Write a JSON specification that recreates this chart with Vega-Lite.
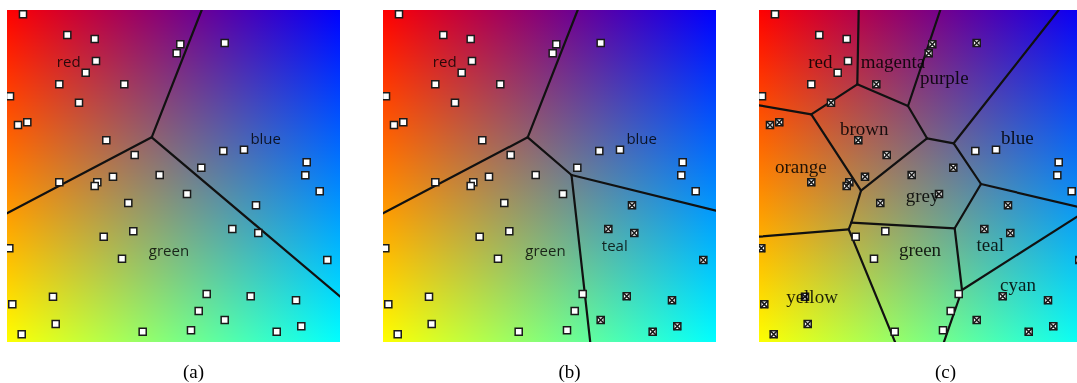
{
  "$schema": "https://vega.github.io/schema/vega-lite/v6.json",
  "background": "white",
  "padding": {"left": 7, "top": 10, "right": 0, "bottom": 0},
  "spacing": 43,
  "config": {"view": {"stroke": null}, "axis": {"disable": true}},
  "datasets": {
    "pts": [
      {"x": 23, "y": 14.3, "b": 0, "c": 0},
      {"x": 67.3, "y": 35, "b": 0, "c": 0},
      {"x": 94.7, "y": 39, "b": 0, "c": 0},
      {"x": 96, "y": 61, "b": 0, "c": 0},
      {"x": 85.7, "y": 72.7, "b": 0, "c": 0},
      {"x": 59.3, "y": 84.3, "b": 0, "c": 0},
      {"x": 124.3, "y": 84.3, "b": 0, "c": 1},
      {"x": 10, "y": 96.3, "b": 0, "c": 0},
      {"x": 79, "y": 102.7, "b": 0, "c": 1},
      {"x": 27.3, "y": 122.3, "b": 0, "c": 1},
      {"x": 18, "y": 125, "b": 0, "c": 1},
      {"x": 106.3, "y": 140.3, "b": 0, "c": 1},
      {"x": 134.7, "y": 155, "b": 0, "c": 1},
      {"x": 180.3, "y": 44.3, "b": 0, "c": 1},
      {"x": 176.7, "y": 53.3, "b": 0, "c": 1},
      {"x": 224.7, "y": 43, "b": 0, "c": 1},
      {"x": 223.3, "y": 151, "b": 0, "c": 0},
      {"x": 244, "y": 149.7, "b": 0, "c": 0},
      {"x": 201.3, "y": 167.7, "b": 0, "c": 1},
      {"x": 306.7, "y": 162.3, "b": 0, "c": 0},
      {"x": 305.3, "y": 175.3, "b": 0, "c": 0},
      {"x": 59.3, "y": 182.3, "b": 0, "c": 1},
      {"x": 97.3, "y": 182.3, "b": 0, "c": 1},
      {"x": 94.7, "y": 186, "b": 0, "c": 1},
      {"x": 113, "y": 176.7, "b": 0, "c": 1},
      {"x": 159.7, "y": 175, "b": 0, "c": 1},
      {"x": 128.3, "y": 203, "b": 0, "c": 1},
      {"x": 133.3, "y": 231.3, "b": 0, "c": 0},
      {"x": 103.7, "y": 236.7, "b": 0, "c": 0},
      {"x": 9.3, "y": 248.3, "b": 0, "c": 1},
      {"x": 122, "y": 258.7, "b": 0, "c": 0},
      {"x": 53, "y": 296.7, "b": 0, "c": 1},
      {"x": 12.3, "y": 304.3, "b": 0, "c": 1},
      {"x": 55.7, "y": 324, "b": 0, "c": 1},
      {"x": 21.7, "y": 334.3, "b": 0, "c": 1},
      {"x": 142.7, "y": 331.7, "b": 0, "c": 0},
      {"x": 319.7, "y": 191.3, "b": 0, "c": 0},
      {"x": 187, "y": 194, "b": 0, "c": 1},
      {"x": 256, "y": 205.3, "b": 1, "c": 1},
      {"x": 232.3, "y": 229, "b": 1, "c": 1},
      {"x": 258.3, "y": 233, "b": 1, "c": 1},
      {"x": 327.3, "y": 260, "b": 1, "c": 1},
      {"x": 206.7, "y": 294, "b": 0, "c": 0},
      {"x": 250.7, "y": 296.3, "b": 1, "c": 1},
      {"x": 296, "y": 300.3, "b": 1, "c": 1},
      {"x": 198.7, "y": 311, "b": 0, "c": 0},
      {"x": 224.7, "y": 320, "b": 1, "c": 1},
      {"x": 191, "y": 330.3, "b": 0, "c": 0},
      {"x": 276.7, "y": 331.7, "b": 1, "c": 1},
      {"x": 301.3, "y": 326.3, "b": 1, "c": 1}
    ],
    "edges": [
      {"p": "a", "x1": 151.7, "y1": 137.3, "x2": 201.7, "y2": 10},
      {"p": "a", "x1": 151.7, "y1": 137.3, "x2": 7, "y2": 213.3},
      {"p": "a", "x1": 151.7, "y1": 137.3, "x2": 340, "y2": 296.5},
      {"p": "b", "x1": 151.7, "y1": 137.3, "x2": 201.7, "y2": 10},
      {"p": "b", "x1": 151.7, "y1": 137.3, "x2": 7, "y2": 213.3},
      {"p": "b", "x1": 151.7, "y1": 137.3, "x2": 195.5, "y2": 175},
      {"p": "b", "x1": 195.5, "y1": 175, "x2": 340, "y2": 210.7},
      {"p": "b", "x1": 195.5, "y1": 175, "x2": 214.3, "y2": 342.7},
      {"p": "c", "x1": 106.7, "y1": 10, "x2": 105.3, "y2": 84.3},
      {"p": "c", "x1": 105.3, "y1": 84.3, "x2": 156, "y2": 106},
      {"p": "c", "x1": 156, "y1": 106, "x2": 188.3, "y2": 10},
      {"p": "c", "x1": 105.3, "y1": 84.3, "x2": 59.3, "y2": 114.3},
      {"p": "c", "x1": 59.3, "y1": 114.3, "x2": 7, "y2": 105.3},
      {"p": "c", "x1": 59.3, "y1": 114.3, "x2": 109, "y2": 190.7},
      {"p": "c", "x1": 109, "y1": 190.7, "x2": 175, "y2": 138.3},
      {"p": "c", "x1": 156, "y1": 106, "x2": 175, "y2": 138.3},
      {"p": "c", "x1": 175, "y1": 138.3, "x2": 201.7, "y2": 143.3},
      {"p": "c", "x1": 201.7, "y1": 143.3, "x2": 306.7, "y2": 10},
      {"p": "c", "x1": 201.7, "y1": 143.3, "x2": 229, "y2": 184},
      {"p": "c", "x1": 229, "y1": 184, "x2": 202.7, "y2": 228.3},
      {"p": "c", "x1": 229, "y1": 184, "x2": 336.5, "y2": 209.4},
      {"p": "c", "x1": 202.7, "y1": 228.3, "x2": 99.3, "y2": 222.7},
      {"p": "c", "x1": 99.3, "y1": 222.7, "x2": 109, "y2": 190.7},
      {"p": "c", "x1": 99.3, "y1": 222.7, "x2": 96.7, "y2": 229.3},
      {"p": "c", "x1": 96.7, "y1": 229.3, "x2": 7, "y2": 236.7},
      {"p": "c", "x1": 96.7, "y1": 229.3, "x2": 143.3, "y2": 342.7},
      {"p": "c", "x1": 202.7, "y1": 228.3, "x2": 210, "y2": 290},
      {"p": "c", "x1": 210, "y1": 290, "x2": 191.7, "y2": 342.7},
      {"p": "c", "x1": 210, "y1": 290, "x2": 336.5, "y2": 209.4}
    ],
    "labels": [
      {"p": "a", "t": "red", "x": 68.7, "y": 66.7},
      {"p": "a", "t": "blue", "x": 265.7, "y": 144},
      {"p": "a", "t": "green", "x": 169, "y": 256},
      {"p": "b", "t": "red", "x": 68.7, "y": 66.7},
      {"p": "b", "t": "blue", "x": 265.7, "y": 144},
      {"p": "b", "t": "green", "x": 169.5, "y": 256},
      {"p": "b", "t": "teal", "x": 238.8, "y": 250.7},
      {"p": "c", "t": "red", "x": 68.3, "y": 68.3},
      {"p": "c", "t": "magenta", "x": 141, "y": 67.5},
      {"p": "c", "t": "purple", "x": 192.3, "y": 84},
      {"p": "c", "t": "brown", "x": 112.3, "y": 135},
      {"p": "c", "t": "blue", "x": 265.3, "y": 144},
      {"p": "c", "t": "orange", "x": 48.8, "y": 173.3},
      {"p": "c", "t": "grey", "x": 170.5, "y": 201.5},
      {"p": "c", "t": "green", "x": 168, "y": 256},
      {"p": "c", "t": "teal", "x": 238.3, "y": 250.7},
      {"p": "c", "t": "yellow", "x": 60, "y": 303.3},
      {"p": "c", "t": "cyan", "x": 266, "y": 290.7}
    ]
  },
  "hconcat": [
    {
      "width": 333, "height": 332,
      "title": {"text": "(a)", "orient": "bottom", "anchor": "middle", "font": "Liberation Serif", "fontSize": 19, "fontWeight": "normal", "color": "#000", "baseline": "top", "offset": 21, "dx": 20},
      "layer": [
        {"data": {"values": [{}]},
         "mark": {"type": "rect", "color": {"gradient": "linear", "x1": 0, "y1": 0, "x2": 1, "y2": 0, "stops": [{"offset": 0, "color": "#ff0000"}, {"offset": 1, "color": "#0000ff"}]}},
         "encoding": {"x": {"datum": 7, "type": "quantitative", "scale": {"domain": [7, 340], "nice": false, "zero": false}}, "x2": {"datum": 340}, "y": {"datum": 10, "type": "quantitative", "scale": {"domain": [10, 342], "nice": false, "zero": false, "reverse": true}}, "y2": {"datum": 342}}},
        {"data": {"values": [{}]},
         "mark": {"type": "rect", "blend": "screen", "color": {"gradient": "linear", "x1": 0, "y1": 0, "x2": 0, "y2": 1, "stops": [{"offset": 0, "color": "#000000"}, {"offset": 1, "color": "#00ff00"}]}},
         "encoding": {"x": {"datum": 7, "type": "quantitative", "scale": {"domain": [7, 340], "nice": false, "zero": false}}, "x2": {"datum": 340}, "y": {"datum": 10, "type": "quantitative", "scale": {"domain": [10, 342], "nice": false, "zero": false, "reverse": true}}, "y2": {"datum": 342}}},
        {"data": {"name": "edges"}, "transform": [{"filter": "datum.p === 'a'"}],
         "mark": {"type": "rule", "clip": true, "color": "#111111", "strokeWidth": 2.2, "strokeCap": "round"},
         "encoding": {"x": {"field": "x1", "type": "quantitative", "scale": {"domain": [7, 340], "nice": false, "zero": false}}, "x2": {"field": "x2"}, "y": {"field": "y1", "type": "quantitative", "scale": {"domain": [10, 342], "nice": false, "zero": false, "reverse": true}}, "y2": {"field": "y2"}}},
        {"data": {"name": "pts"},
         "mark": {"type": "point", "shape": "square", "filled": true, "fill": "white", "stroke": "#1a1a1a", "strokeWidth": 1.5, "size": 50, "opacity": 1, "clip": true},
         "encoding": {"x": {"field": "x", "type": "quantitative", "scale": {"domain": [7, 340], "nice": false, "zero": false}}, "y": {"field": "y", "type": "quantitative", "scale": {"domain": [10, 342], "nice": false, "zero": false, "reverse": true}}}},
        {"data": {"name": "labels"}, "transform": [{"filter": "datum.p === 'a'"}],
         "mark": {"type": "text", "font": "Open Sans", "fontSize": 15, "baseline": "alphabetic", "align": "center", "color": "#000000", "opacity": 0.8},
         "encoding": {"x": {"field": "x", "type": "quantitative", "scale": {"domain": [7, 340], "nice": false, "zero": false}}, "y": {"field": "y", "type": "quantitative", "scale": {"domain": [10, 342], "nice": false, "zero": false, "reverse": true}}, "text": {"field": "t"}}}
      ]
    },
    {
      "width": 333, "height": 332,
      "title": {"text": "(b)", "orient": "bottom", "anchor": "middle", "font": "Liberation Serif", "fontSize": 19, "fontWeight": "normal", "color": "#000", "baseline": "top", "offset": 21, "dx": 20},
      "layer": [
        {"data": {"values": [{}]},
         "mark": {"type": "rect", "color": {"gradient": "linear", "x1": 0, "y1": 0, "x2": 1, "y2": 0, "stops": [{"offset": 0, "color": "#ff0000"}, {"offset": 1, "color": "#0000ff"}]}},
         "encoding": {"x": {"datum": 7, "type": "quantitative", "scale": {"domain": [7, 340], "nice": false, "zero": false}}, "x2": {"datum": 340}, "y": {"datum": 10, "type": "quantitative", "scale": {"domain": [10, 342], "nice": false, "zero": false, "reverse": true}}, "y2": {"datum": 342}}},
        {"data": {"values": [{}]},
         "mark": {"type": "rect", "blend": "screen", "color": {"gradient": "linear", "x1": 0, "y1": 0, "x2": 0, "y2": 1, "stops": [{"offset": 0, "color": "#000000"}, {"offset": 1, "color": "#00ff00"}]}},
         "encoding": {"x": {"datum": 7, "type": "quantitative", "scale": {"domain": [7, 340], "nice": false, "zero": false}}, "x2": {"datum": 340}, "y": {"datum": 10, "type": "quantitative", "scale": {"domain": [10, 342], "nice": false, "zero": false, "reverse": true}}, "y2": {"datum": 342}}},
        {"data": {"name": "edges"}, "transform": [{"filter": "datum.p === 'b'"}],
         "mark": {"type": "rule", "clip": true, "color": "#111111", "strokeWidth": 2.2, "strokeCap": "round"},
         "encoding": {"x": {"field": "x1", "type": "quantitative", "scale": {"domain": [7, 340], "nice": false, "zero": false}}, "x2": {"field": "x2"}, "y": {"field": "y1", "type": "quantitative", "scale": {"domain": [10, 342], "nice": false, "zero": false, "reverse": true}}, "y2": {"field": "y2"}}},
        {"data": {"name": "pts"},
         "mark": {"type": "point", "shape": "square", "filled": true, "fill": "white", "stroke": "#1a1a1a", "strokeWidth": 1.5, "size": 50, "opacity": 1, "clip": true},
         "encoding": {"x": {"field": "x", "type": "quantitative", "scale": {"domain": [7, 340], "nice": false, "zero": false}}, "y": {"field": "y", "type": "quantitative", "scale": {"domain": [10, 342], "nice": false, "zero": false, "reverse": true}}}},
        {"data": {"name": "pts"}, "transform": [{"filter": "datum.b == 1"}],
         "mark": {"type": "point", "shape": "M-1,-1L1,1M1,-1L-1,1", "filled": false, "stroke": "#1a1a1a", "strokeWidth": 1.6, "size": 50, "opacity": 1, "clip": true},
         "encoding": {"x": {"field": "x", "type": "quantitative", "scale": {"domain": [7, 340], "nice": false, "zero": false}}, "y": {"field": "y", "type": "quantitative", "scale": {"domain": [10, 342], "nice": false, "zero": false, "reverse": true}}}},
        {"data": {"name": "labels"}, "transform": [{"filter": "datum.p === 'b'"}],
         "mark": {"type": "text", "font": "Open Sans", "fontSize": 15, "baseline": "alphabetic", "align": "center", "color": "#000000", "opacity": 0.8},
         "encoding": {"x": {"field": "x", "type": "quantitative", "scale": {"domain": [7, 340], "nice": false, "zero": false}}, "y": {"field": "y", "type": "quantitative", "scale": {"domain": [10, 342], "nice": false, "zero": false, "reverse": true}}, "text": {"field": "t"}}}
      ]
    },
    {
      "width": 318, "height": 332,
      "title": {"text": "(c)", "orient": "bottom", "anchor": "middle", "font": "Liberation Serif", "fontSize": 19, "fontWeight": "normal", "color": "#000", "baseline": "top", "offset": 21, "dx": 27.5},
      "layer": [
        {"data": {"values": [{}]},
         "mark": {"type": "rect", "color": {"gradient": "linear", "x1": 0, "y1": 0, "x2": 1, "y2": 0, "stops": [{"offset": 0, "color": "#ff0000"}, {"offset": 1, "color": "#0b00f4"}]}},
         "encoding": {"x": {"datum": 7, "type": "quantitative", "scale": {"domain": [7, 325], "nice": false, "zero": false}}, "x2": {"datum": 325}, "y": {"datum": 10, "type": "quantitative", "scale": {"domain": [10, 342], "nice": false, "zero": false, "reverse": true}}, "y2": {"datum": 342}}},
        {"data": {"values": [{}]},
         "mark": {"type": "rect", "blend": "screen", "color": {"gradient": "linear", "x1": 0, "y1": 0, "x2": 0, "y2": 1, "stops": [{"offset": 0, "color": "#000000"}, {"offset": 1, "color": "#00ff00"}]}},
         "encoding": {"x": {"datum": 7, "type": "quantitative", "scale": {"domain": [7, 325], "nice": false, "zero": false}}, "x2": {"datum": 325}, "y": {"datum": 10, "type": "quantitative", "scale": {"domain": [10, 342], "nice": false, "zero": false, "reverse": true}}, "y2": {"datum": 342}}},
        {"data": {"name": "edges"}, "transform": [{"filter": "datum.p === 'c'"}],
         "mark": {"type": "rule", "clip": true, "color": "#111111", "strokeWidth": 2.2, "strokeCap": "round"},
         "encoding": {"x": {"field": "x1", "type": "quantitative", "scale": {"domain": [7, 325], "nice": false, "zero": false}}, "x2": {"field": "x2"}, "y": {"field": "y1", "type": "quantitative", "scale": {"domain": [10, 342], "nice": false, "zero": false, "reverse": true}}, "y2": {"field": "y2"}}},
        {"data": {"name": "pts"},
         "mark": {"type": "point", "shape": "square", "filled": true, "fill": "white", "stroke": "#1a1a1a", "strokeWidth": 1.5, "size": 50, "opacity": 1, "clip": true},
         "encoding": {"x": {"field": "x", "type": "quantitative", "scale": {"domain": [7, 325], "nice": false, "zero": false}}, "y": {"field": "y", "type": "quantitative", "scale": {"domain": [10, 342], "nice": false, "zero": false, "reverse": true}}}},
        {"data": {"name": "pts"}, "transform": [{"filter": "datum.c == 1"}],
         "mark": {"type": "point", "shape": "M-1,-1L1,1M1,-1L-1,1", "filled": false, "stroke": "#1a1a1a", "strokeWidth": 1.6, "size": 50, "opacity": 1, "clip": true},
         "encoding": {"x": {"field": "x", "type": "quantitative", "scale": {"domain": [7, 325], "nice": false, "zero": false}}, "y": {"field": "y", "type": "quantitative", "scale": {"domain": [10, 342], "nice": false, "zero": false, "reverse": true}}}},
        {"data": {"name": "labels"}, "transform": [{"filter": "datum.p === 'c'"}],
         "mark": {"type": "text", "font": "Liberation Serif", "fontSize": 19, "baseline": "alphabetic", "align": "center", "color": "#000000", "opacity": 0.85},
         "encoding": {"x": {"field": "x", "type": "quantitative", "scale": {"domain": [7, 325], "nice": false, "zero": false}}, "y": {"field": "y", "type": "quantitative", "scale": {"domain": [10, 342], "nice": false, "zero": false, "reverse": true}}, "text": {"field": "t"}}}
      ]
    }
  ]
}
